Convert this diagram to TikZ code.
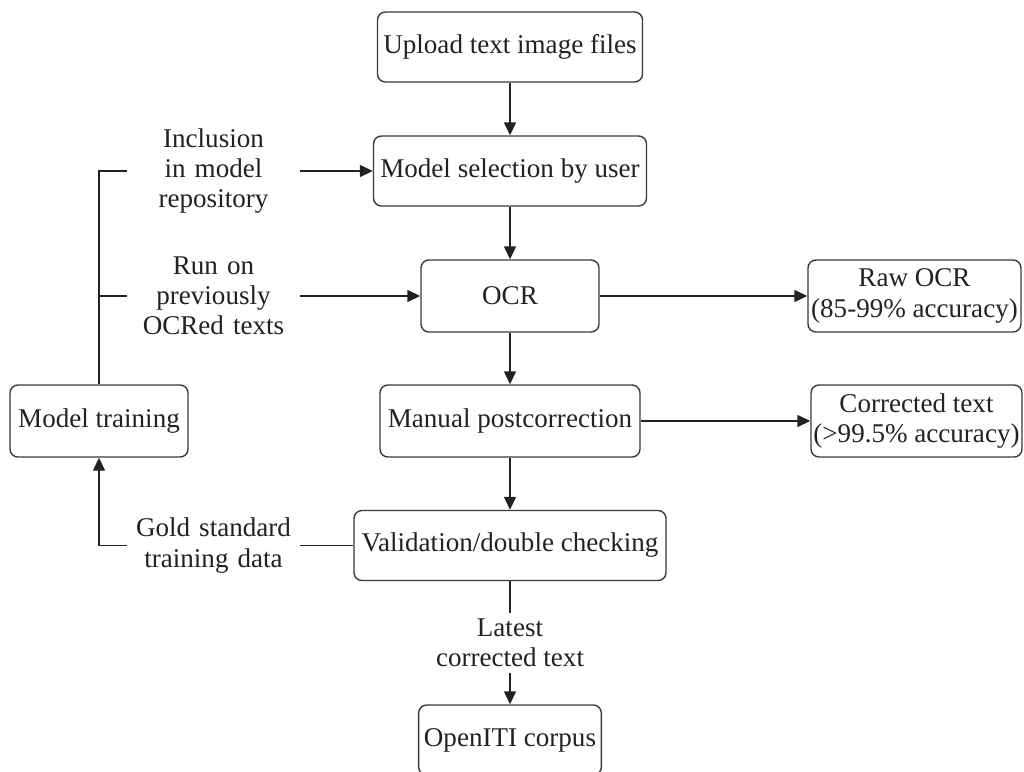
\documentclass[tikz,border=0pt]{standalone}
\usepackage{fontspec}
\setmainfont{Liberation Serif}
\usetikzlibrary{arrows.meta,positioning}
\definecolor{ink}{HTML}{222222}
\definecolor{frame}{HTML}{3A3A3A}
\newcommand{\flowfont}{\fontsize{15.4}{17.2}\selectfont}
\tikzset{
 every node/.append style={font=\flowfont,text=ink,align=center},
 stepbox/.style={draw=frame,fill=white,rounded corners=4.5pt,line width=.8pt,inner xsep=3pt,inner ysep=4pt,minimum height=14mm},
 tag/.style={fill=white,inner sep=0pt,text width=34.6mm},
 line/.style={draw=ink,line width=.8pt},
 flow/.style={line,-{Triangle[length=2.6mm,width=2.4mm]}},
}

\begin{document}
\begin{tikzpicture}
\useasboundingbox (0,0) rectangle (20.48,-15.44);

% main column
\node[stepbox,minimum width=53mm] (upload) at (10.2,-.94) {Upload text image files};
\node[stepbox,minimum width=54.6mm] (select) at (10.2,-3.42) {Model selection by user};
\node[stepbox,minimum width=35.6mm,minimum height=14.4mm] (ocr) at (10.2,-5.92) {OCR};
\node[stepbox,minimum width=52mm,minimum height=14.4mm] (manual) at (10.2,-8.42) {Manual postcorrection};
\node[stepbox,minimum width=62.4mm] (valid) at (10.2,-10.91) {Validation/double checking};
\node[stepbox,minimum width=36.4mm] (corpus) at (10.2,-14.8) {OpenITI corpus};

% outputs on the right
\node[stepbox,minimum width=42.6mm,minimum height=14.4mm,inner xsep=1pt] (raw) at (18.29,-5.92) {Raw OCR\\(85-99\% accuracy)};
\node[stepbox,minimum width=42.2mm,minimum height=14.4mm,inner xsep=1pt] (corrected) at (18.33,-8.42) {Corrected text\\(>99.5\% accuracy)};

% training loop on the left
\node[stepbox,minimum width=35.6mm,minimum height=14.4mm] (train) at (1.98,-8.42) {Model training};
\node[tag] (incl) at (4.27,-3.42) {Inclusion\\in model\\repository};
\node[tag] (rerun) at (4.27,-5.92) {Run on\\previously\\OCRed texts};
\node[tag] (gold) at (4.27,-10.91) {Gold standard\\training data};
\node[fill=white,inner xsep=0pt,inner ysep=3pt] (latest) at (10.2,-12.86) {Latest\\corrected text};

\draw[flow] (upload) -- (select);
\draw[flow] (select) -- (ocr);
\draw[flow] (ocr) -- (manual);
\draw[flow] (manual) -- (valid);
\draw[flow] (ocr) -- (raw);
\draw[flow] (manual) -- (corrected);

\draw[line] (train.north) |- (incl.west);
\draw[flow] (incl) -- (select);
\draw[line] (train.north |- rerun.west) -- (rerun.west);
\draw[flow] (rerun) -- (ocr);
\draw[line] (valid.west) -- (gold.east);
\draw[flow] (gold.west) -| (train.south);
\draw[line] (valid) -- (latest);
\draw[flow] (latest) -- (corpus);

\end{tikzpicture}
\end{document}
